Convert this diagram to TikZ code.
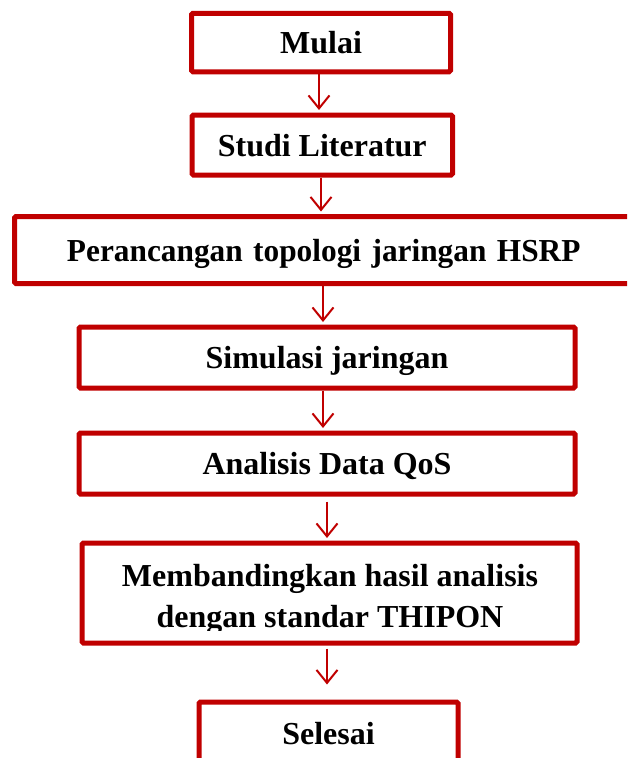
\documentclass[tikz,border=0pt]{standalone}
\usepackage{fontspec}
\setmainfont{Liberation Serif}
\usetikzlibrary{arrows.meta}
\definecolor{boxred}{HTML}{C00000}
\begin{document}
\begin{tikzpicture}[x=1pt,y=-1pt,
  stepbox/.style={draw=boxred, line width=5pt, rounded corners=1.5pt,
    inner sep=0pt, font=\fontsize{32}{41}\selectfont\bfseries,
    text height=22pt, text depth=0pt},
  label/.style={inner sep=0pt, font=\fontsize{32}{41}\selectfont\bfseries, align=center},
  flow/.style={draw=boxred, line width=2pt,
    -{Straight Barb[length=13pt,width=21pt]}},
]
\useasboundingbox (0,0) rectangle (627,758);
\clip (0,0) rectangle (627,758);

% process steps
\node[stepbox, minimum width=259pt, minimum height=58.5pt] (mulai) at (321,42.5) {Mulai};
\node[stepbox, minimum width=260.5pt, minimum height=60pt] (studi) at (322.25,145) {Studi Literatur};
\node[stepbox, minimum width=625.5pt, minimum height=67pt, text width=625.5pt, align=left] (desain) at (327.25,250)
  {\hspace*{52.5pt}\scalebox{0.979}[1]{Perancangan topologi jaringan HSRP}};
\node[stepbox, minimum width=496pt, minimum height=61pt] (simulasi) at (327,357.5) {Simulasi jaringan};
\node[stepbox, minimum width=496pt, minimum height=61pt] (analisis) at (327,463.5) {Analisis Data QoS};
\node[stepbox, minimum width=495pt, minimum height=100pt] (banding) at (329.5,593) {};
\node[stepbox, minimum width=259pt, minimum height=62pt] (selesai) at (328.5,733) {Selesai};

% the two-line text of the comparison step is cut off by its frame
\begin{scope}
  \clip (0,0) rectangle (627,630);
  \node[label, anchor=base] (bandingtext) at (330,627)
    {Membandingkan hasil analisis\\dengan standar THIPON};
\end{scope}

% connectors
\draw[flow, shorten >=2.5pt] (mulai.south -| 319,0) -- (studi.north -| 319,0);
\draw[flow, shorten >=2.5pt] (studi.south -| 321,0) -- (desain.north -| 321,0);
\draw[flow, shorten >=2.5pt] (desain.south -| 323,0) -- (simulasi.north -| 323,0);
\draw[flow, shorten >=2.5pt] (simulasi.south -| 323,0) -- (analisis.north -| 323,0);
\draw[flow, shorten <=5pt, shorten >=2.5pt] (analisis.south -| 327,0) -- (banding.north -| 327,0);
\draw[flow, shorten <=3pt, shorten >=15pt] (banding.south -| 327,0) -- (selesai.north -| 327,0);
\end{tikzpicture}
\end{document}
